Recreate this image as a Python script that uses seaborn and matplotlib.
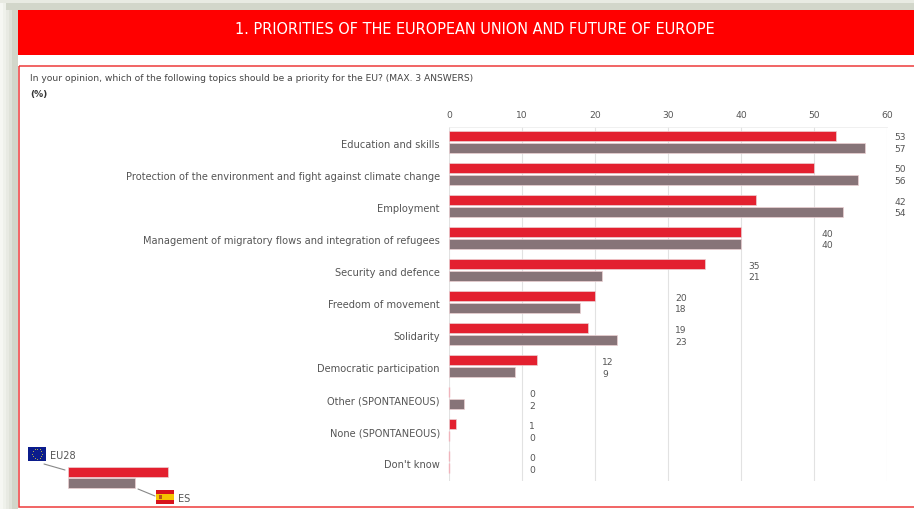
import numpy as np
import pandas as pd
import matplotlib
matplotlib.use("Agg")
import matplotlib.pyplot as plt
from matplotlib.patches import Rectangle
from matplotlib.transforms import ScaledTranslation
import seaborn as sns

# ---- data ----
topics = [
    "Education and skills",
    "Protection of the environment and fight against climate change",
    "Employment",
    "Management of migratory flows and integration of refugees",
    "Security and defence",
    "Freedom of movement",
    "Solidarity",
    "Democratic participation",
    "Other (SPONTANEOUS)",
    "None (SPONTANEOUS)",
    "Don't know",
]
eu28 = [53, 50, 42, 40, 35, 20, 19, 12, 0, 1, 0]
es = [57, 56, 54, 40, 21, 18, 23, 9, 2, 0, 0]
x_ticks = [0, 10, 20, 30, 40, 50, 60]

title = "1. PRIORITIES OF THE EUROPEAN UNION AND FUTURE OF EUROPE"
question = "In your opinion, which of the following topics should be a priority for the EU? (MAX. 3 ANSWERS)"

RED = "#e3202f"
GREY = "#877478"
TXT = "#555555"
W, H = 914, 510

sns.set_theme(style="white")
plt.rcParams["font.family"] = ["DejaVu Sans"]

df = pd.DataFrame({
    "topic": topics * 2,
    "value": eu28 + es,
    "area": ["EU28"] * len(topics) + ["ES"] * len(topics),
})

fig = plt.figure(figsize=(W / 100, H / 100), dpi=100, facecolor="white")

# background layer in pixel coordinates
bg = fig.add_axes([0, 0, 1, 1], zorder=0)
bg.set_xlim(0, W)
bg.set_ylim(H, 0)
bg.axis("off")


def box(x0, y0, x1, y1, **kw):
    bg.add_patch(Rectangle((x0, y0), x1 - x0, y1 - y0, **kw))


# soft picture shadow on the left and top
for x0, c in [(0, "#f6f7f3"), (3, "#eff1eb"), (6, "#e8eae3"), (9, "#dfe2d9"), (12, "#d2d6ca")]:
    box(x0, 0, 18, H, fc=c, ec="none")
box(0, 0, W, 4, fc="#e8eae2", ec="none")
box(6, 4, W, 11, fc="#d2d6ca", ec="none")
box(18, 11, W, H, fc="white", ec="none")

# header band and frame
box(18, 11, W, 55.5, fc="#ff0000", ec="none")
bg.text(475, 29, title, color="white", fontsize=10.45, ha="center", va="center")
box(18.5, 67, W + 5, 508, fc="none", ec="#ee3b3b", lw=1.1)
bg.text(30, 78.5, question, color="#444444", fontsize=6.6, va="center")
bg.text(30, 94.5, "(%)", color="#333333", fontsize=6.6, fontweight="bold", va="center")

# main chart
ax = fig.add_axes([449 / W, 1 - 482 / H, (887 - 449) / W, (482 - 128) / H], zorder=1)
ax.patch.set_alpha(0)
sns.barplot(
    data=df, y="topic", x="value", hue="area", order=topics, hue_order=["EU28", "ES"],
    palette=[RED, GREY], saturation=1, width=0.75, gap=0.17, dodge=True, legend=False, ax=ax,
    edgecolor="#ecd0d3", linewidth=0.5, zorder=3,
)
# empty answers still show as a faint pink tick
for bar in ax.patches:
    if bar.get_width() == 0:
        bar.set_edgecolor("#f0b4bc")
        bar.set_linewidth(1.0)
        bar.set_clip_on(False)

ax.set_xlim(0, 60)
ax.set_ylim(10.59, -0.46)
ax.set_xlabel("")
ax.set_ylabel("")
ax.set_xticks(x_ticks)
ax.xaxis.tick_top()
ax.tick_params(axis="x", length=0, pad=5.5, labelsize=6.6, labelcolor=TXT)
ax.tick_params(axis="y", length=0, pad=6.5, labelsize=7.12, labelcolor=TXT)
# topic labels sit a touch below the middle of their pair of bars
shift = ScaledTranslation(0, -1.2 / 100, fig.dpi_scale_trans)
for lab in ax.get_yticklabels():
    lab.set_transform(lab.get_transform() + shift)
ax.grid(axis="x", color="#e2e2e2", lw=0.8, zorder=0)
ax.set_axisbelow(True)
for side in ["left", "right", "bottom"]:
    ax.spines[side].set_visible(False)
ax.spines["top"].set_color("#eeeeee")
ax.spines["top"].set_linewidth(0.6)

# value labels sit just past the next gridline
for i, (a, b) in enumerate(zip(eu28, es)):
    lx = (max(a, b) // 10 + 1) * 10 + 1
    ax.text(lx, i - 0.15, str(a), color=TXT, fontsize=6.6, va="center", clip_on=False)
    ax.text(lx, i + 0.22, str(b), color=TXT, fontsize=6.6, va="center", clip_on=False)

# legend
box(68, 468.3, 168, 477.8, fc=RED, ec="#ecd0d3", lw=0.5)
box(68, 479.4, 135, 488.8, fc=GREY, ec="#ecd0d3", lw=0.5)
bg.plot([44, 65], [465, 471], color="#888888", lw=0.8)
bg.plot([138, 155], [490, 497], color="#888888", lw=0.8)

box(28, 448, 46, 461.7, fc="#0b1c8c", ec="none")
ang = np.arange(12) * np.pi / 6
bg.scatter(37 + 5 * np.cos(ang), 454.8 + 5 * np.sin(ang), s=0.5, color="#b9b34a", linewidths=0)
bg.text(50, 456, "EU28", color=TXT, fontsize=7, va="center")

box(155.5, 491, 173.5, 495, fc="#d8141c", ec="none")
box(155.5, 494.5, 173.5, 501, fc="#f6c400", ec="none")
box(155.5, 501, 173.5, 504.5, fc="#d8141c", ec="none")
box(159, 496, 162, 500, fc="#b5561c", ec="none")
bg.text(178, 499, "ES", color=TXT, fontsize=7, va="center")

fig.savefig("out.png", dpi=100)
